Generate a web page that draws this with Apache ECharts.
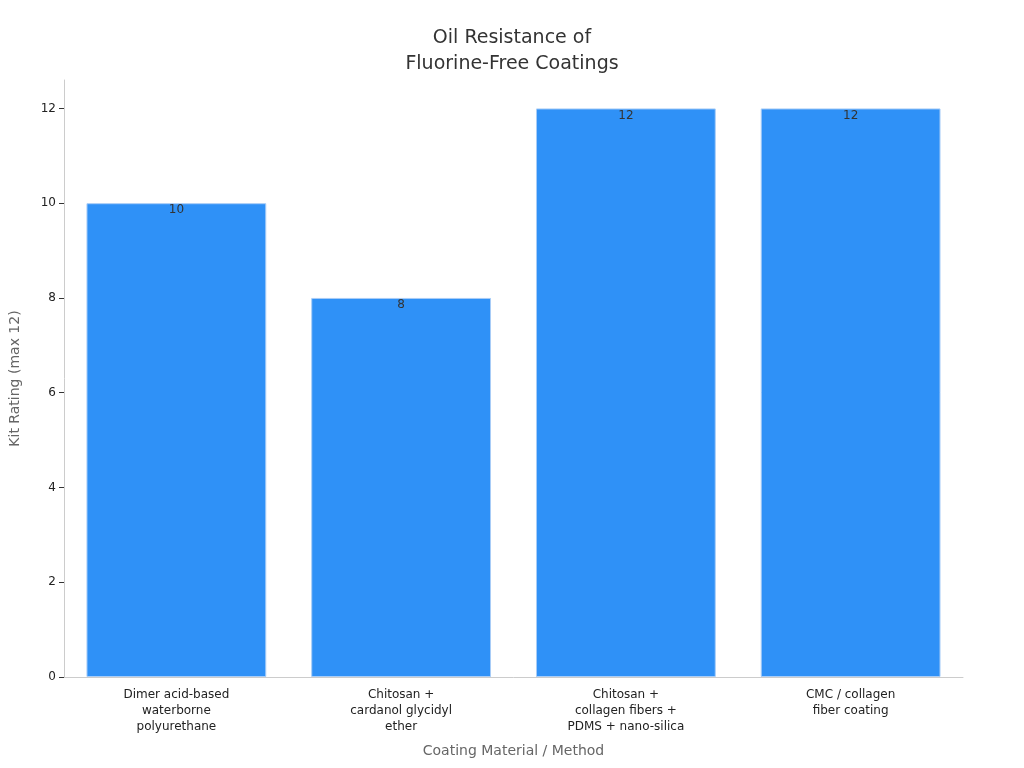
<!DOCTYPE html>
<html>
<head>
<meta charset="utf-8">
<script src="https://cdn.jsdelivr.net/npm/echarts@6/dist/echarts.min.js"></script>
<style>html,body{margin:0;padding:0;background:#fff}#chart{width:1024px;height:768px}</style>
</head>
<body>
<div id="chart"></div>
<script>
// 数据
const categories = [
    'Dimer acid-based\nwaterborne\npolyurethane',
    'Chitosan +\ncardanol glycidyl\nether',
    'Chitosan +\ncollagen fibers +\nPDMS + nano-silica',
    'CMC / collagen\nfiber coating'
];
const kitRatings = [10, 8, 12, 12];

const chart = echarts.init(document.getElementById('chart'));
chart.setOption({
    textStyle: { fontFamily: 'DejaVu Sans' },
    title: {
        text: 'Oil Resistance of\nFluorine-Free Coatings',
        left: 'center', top: 20,
        textStyle: { fontSize: 19, fontWeight: 'normal', color: '#333', lineHeight: 26 }
    },
    grid: { left: 60, right: 61, top: 80, bottom: 91 },
    xAxis: {
        type: 'category', data: categories,
        name: 'Coating Material / Method', nameLocation: 'middle', nameGap: 67,
        nameTextStyle: { fontSize: 14, color: '#666' },
        axisLine: { lineStyle: { color: '#ccc' } },
        axisTick: { alignWithLabel: true, lineStyle: { color: '#333' } },
        axisLabel: { color: '#222', fontSize: 12, lineHeight: 16, margin: 10, interval: 0 }
    },
    yAxis: {
        type: 'value', min: 0, max: 12.6, interval: 2,
        name: 'Kit Rating (max 12)', nameLocation: 'middle', nameGap: 42,
        nameTextStyle: { fontSize: 14, color: '#666' },
        axisLine: { show: true, lineStyle: { color: '#ccc' } },
        axisTick: { show: true, lineStyle: { color: '#333' } },
        axisLabel: { color: '#222', fontSize: 12, showMaxLabel: false },
        splitLine: { show: false }
    },
    series: [{
        type: 'bar', data: kitRatings, barCategoryGap: '20%',
        itemStyle: { color: '#2f91f7', borderColor: '#a9cdf7', borderWidth: 1 },
        label: { show: true, position: 'insideTop', offset: [0, -4], color: '#333', fontSize: 12 }
    }]
});
</script>
</body>
</html>
